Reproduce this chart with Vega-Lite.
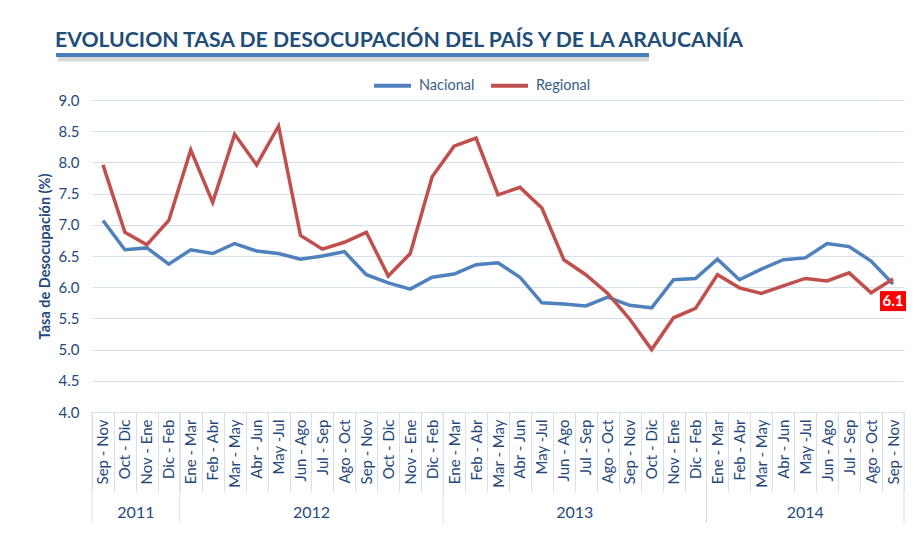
{
  "$schema": "https://vega.github.io/schema/vega-lite/v6.json",
  "width": 812,
  "height": 312,
  "autosize": {"type": "none"},
  "padding": {"left": 92, "top": 100, "right": 11, "bottom": 128},
  "background": "white",
  "config": {"font": "Lato", "view": {"stroke": null}},
  "title": {
    "text": "EVOLUCION TASA DE DESOCUPACIÓN DEL PAÍS Y DE LA ARAUCANÍA",
    "anchor": "start",
    "frame": "group",
    "dx": -37,
    "fontSize": 21.2,
    "fontWeight": "bold",
    "color": "#1F4E79",
    "offset": 2
  },
  "data": {
    "values": [
      {"k": "2011|Sep - Nov", "anio": "2011", "Nacional": 7.07, "Regional": 7.96},
      {"k": "2011|Oct - Dic", "anio": "2011", "Nacional": 6.60, "Regional": 6.88},
      {"k": "2011|Nov - Ene", "anio": "2011", "Nacional": 6.63, "Regional": 6.68},
      {"k": "2011|Dic - Feb", "anio": "2011", "Nacional": 6.37, "Regional": 7.07},
      {"k": "2012|Ene - Mar", "anio": "2012", "Nacional": 6.60, "Regional": 8.20},
      {"k": "2012|Feb - Abr", "anio": "2012", "Nacional": 6.54, "Regional": 7.36},
      {"k": "2012|Mar - May", "anio": "2012", "Nacional": 6.70, "Regional": 8.45},
      {"k": "2012|Abr - Jun", "anio": "2012", "Nacional": 6.58, "Regional": 7.96},
      {"k": "2012|May -Jul", "anio": "2012", "Nacional": 6.54, "Regional": 8.58},
      {"k": "2012|Jun - Ago", "anio": "2012", "Nacional": 6.45, "Regional": 6.83},
      {"k": "2012|Jul - Sep", "anio": "2012", "Nacional": 6.50, "Regional": 6.61},
      {"k": "2012|Ago - Oct", "anio": "2012", "Nacional": 6.57, "Regional": 6.72},
      {"k": "2012|Sep - Nov", "anio": "2012", "Nacional": 6.20, "Regional": 6.88},
      {"k": "2012|Oct - Dic", "anio": "2012", "Nacional": 6.07, "Regional": 6.18},
      {"k": "2012|Nov - Ene", "anio": "2012", "Nacional": 5.97, "Regional": 6.54},
      {"k": "2012|Dic - Feb", "anio": "2012", "Nacional": 6.16, "Regional": 7.77},
      {"k": "2013|Ene - Mar", "anio": "2013", "Nacional": 6.21, "Regional": 8.26},
      {"k": "2013|Feb - Abr", "anio": "2013", "Nacional": 6.36, "Regional": 8.39},
      {"k": "2013|Mar - May", "anio": "2013", "Nacional": 6.39, "Regional": 7.48},
      {"k": "2013|Abr - Jun", "anio": "2013", "Nacional": 6.16, "Regional": 7.60},
      {"k": "2013|May -Jul", "anio": "2013", "Nacional": 5.75, "Regional": 7.27},
      {"k": "2013|Jun - Ago", "anio": "2013", "Nacional": 5.73, "Regional": 6.44},
      {"k": "2013|Jul - Sep", "anio": "2013", "Nacional": 5.70, "Regional": 6.20},
      {"k": "2013|Ago - Oct", "anio": "2013", "Nacional": 5.84, "Regional": 5.90},
      {"k": "2013|Sep - Nov", "anio": "2013", "Nacional": 5.71, "Regional": 5.49},
      {"k": "2013|Oct - Dic", "anio": "2013", "Nacional": 5.67, "Regional": 5.00},
      {"k": "2013|Nov - Ene", "anio": "2013", "Nacional": 6.12, "Regional": 5.51},
      {"k": "2013|Dic - Feb", "anio": "2013", "Nacional": 6.14, "Regional": 5.66},
      {"k": "2014|Ene - Mar", "anio": "2014", "Nacional": 6.45, "Regional": 6.20},
      {"k": "2014|Feb - Abr", "anio": "2014", "Nacional": 6.12, "Regional": 5.99},
      {"k": "2014|Mar - May", "anio": "2014", "Nacional": 6.29, "Regional": 5.90},
      {"k": "2014|Abr - Jun", "anio": "2014", "Nacional": 6.44, "Regional": 6.02},
      {"k": "2014|May -Jul", "anio": "2014", "Nacional": 6.47, "Regional": 6.14},
      {"k": "2014|Jun - Ago", "anio": "2014", "Nacional": 6.70, "Regional": 6.10},
      {"k": "2014|Jul - Sep", "anio": "2014", "Nacional": 6.65, "Regional": 6.23},
      {"k": "2014|Ago - Oct", "anio": "2014", "Nacional": 6.42, "Regional": 5.91},
      {"k": "2014|Sep - Nov", "anio": "2014", "Nacional": 6.05, "Regional": 6.13}
    ]
  },
  "transform": [{"fold": ["Nacional", "Regional"], "as": ["serie", "valor"]}],
  "layer": [
    {
      "mark": {"type": "line", "strokeWidth": 3.5},
      "encoding": {
        "x": {
          "field": "k",
          "type": "ordinal",
          "sort": null,
          "bandPosition": 0.5,
          "scale": {
            "type": "band",
            "paddingInner": 0,
            "paddingOuter": 0,
            "domain": [
              "2011|Sep - Nov", "2011|Oct - Dic", "2011|Nov - Ene", "2011|Dic - Feb",
              "2012|Ene - Mar", "2012|Feb - Abr", "2012|Mar - May", "2012|Abr - Jun", "2012|May -Jul", "2012|Jun - Ago",
              "2012|Jul - Sep", "2012|Ago - Oct", "2012|Sep - Nov", "2012|Oct - Dic", "2012|Nov - Ene", "2012|Dic - Feb",
              "2013|Ene - Mar", "2013|Feb - Abr", "2013|Mar - May", "2013|Abr - Jun", "2013|May -Jul", "2013|Jun - Ago",
              "2013|Jul - Sep", "2013|Ago - Oct", "2013|Sep - Nov", "2013|Oct - Dic", "2013|Nov - Ene", "2013|Dic - Feb",
              "2014|Ene - Mar", "2014|Feb - Abr", "2014|Mar - May", "2014|Abr - Jun", "2014|May -Jul", "2014|Jun - Ago",
              "2014|Jul - Sep", "2014|Ago - Oct", "2014|Sep - Nov"
            ]
          },
          "axis": {
            "title": null,
            "labelExpr": "split(datum.value, '|')[1]",
            "labelAngle": -90,
            "labelAlign": "right",
            "labelBaseline": "middle",
            "labelPadding": -72,
            "labelFontSize": 15,
            "labelColor": "#1F497D",
            "labelOverlap": false,
            "tickBand": "extent",
            "tickColor": "#D6E0EE",
            "tickSize": 79,
            "domainColor": "#D6E0EE",
            "grid": false
          }
        },
        "y": {
          "field": "valor",
          "type": "quantitative",
          "scale": {"domain": [4, 9], "nice": false, "zero": false},
          "axis": {
            "title": "Tasa de Desocupación (%)",
            "values": [4, 4.5, 5, 5.5, 6, 6.5, 7, 7.5, 8, 8.5, 9],
            "format": ".1f",
            "domain": false,
            "ticks": false,
            "labelOverlap": false,
            "labelPadding": 13,
            "labelFontSize": 15,
            "labelColor": "#1F497D",
            "gridColor": "#D6E0EE",
            "titleFontSize": 14.5,
            "titleFontWeight": "bold",
            "titleColor": "#1F497D",
            "titlePadding": 6
          }
        },
        "color": {
          "field": "serie",
          "type": "nominal",
          "scale": {"domain": ["Nacional", "Regional"], "range": ["#4F81BD", "#C0504D"]},
          "legend": {
            "title": null,
            "orient": "none",
            "legendX": 280,
            "legendY": -35,
            "direction": "horizontal",
            "symbolType": "stroke",
            "symbolSize": 1369,
            "symbolStrokeWidth": 4,
            "labelFontSize": 14.5,
            "labelColor": "#385D8A",
            "columnPadding": 8,
            "labelOffset": 6
          }
        }
      }
    },
    {
      "transform": [{"filter": "datum.serie == 'Nacional' && datum.k == '2011|Sep - Nov'"}],
      "mark": {"type": "rule", "color": "#7F7F7F", "strokeWidth": 5, "opacity": 0.3, "yOffset": 4, "xOffset": 2},
      "encoding": {
        "x": {"datum": "2011|Sep - Nov", "bandPosition": -1.64},
        "x2": {"datum": "2013|Oct - Dic", "bandPosition": 0.38},
        "y": {"datum": 9.72, "axis": {"values": [4, 4.5, 5, 5.5, 6, 6.5, 7, 7.5, 8, 8.5, 9]}}
      }
    },
    {
      "transform": [{"filter": "datum.serie == 'Nacional' && datum.k == '2011|Sep - Nov'"}],
      "mark": {"type": "rule", "color": "#4A7EBB", "strokeWidth": 4},
      "encoding": {
        "x": {"datum": "2011|Sep - Nov", "bandPosition": -1.64},
        "x2": {"datum": "2013|Oct - Dic", "bandPosition": 0.38},
        "y": {"datum": 9.72, "axis": {"values": [4, 4.5, 5, 5.5, 6, 6.5, 7, 7.5, 8, 8.5, 9]}}
      }
    },
    {
      "transform": [{"filter": "datum.serie == 'Nacional' && indexof(['2011|Sep - Nov','2012|Ene - Mar','2013|Ene - Mar','2014|Ene - Mar'], datum.k) >= 0"}],
      "mark": {"type": "rule", "color": "#D6E0EE", "strokeWidth": 1},
      "encoding": {
        "x": {"field": "k", "type": "ordinal", "bandPosition": 0},
        "y": {"datum": 4, "axis": {"values": [4, 4.5, 5, 5.5, 6, 6.5, 7, 7.5, 8, 8.5, 9]}},
        "y2": {"datum": 2.22}
      }
    },
    {
      "transform": [{"filter": "datum.serie == 'Nacional' && datum.k == '2014|Sep - Nov'"}],
      "mark": {"type": "rule", "color": "#D6E0EE", "strokeWidth": 1},
      "encoding": {
        "x": {"field": "k", "type": "ordinal", "bandPosition": 1},
        "y": {"datum": 4, "axis": {"values": [4, 4.5, 5, 5.5, 6, 6.5, 7, 7.5, 8, 8.5, 9]}},
        "y2": {"datum": 2.22}
      }
    },
    {
      "transform": [{"filter": "datum.serie == 'Regional' && datum.k == '2014|Sep - Nov'"}],
      "mark": {"type": "point", "shape": "M-1.3,-1L1.3,-1L1.3,1L-1.3,1Z", "size": 400, "filled": true, "color": "#FF0000", "opacity": 1, "yOffset": 22},
      "encoding": {
        "x": {"field": "k", "type": "ordinal", "bandPosition": 0.5},
        "y": {"field": "valor", "type": "quantitative", "axis": {"values": [4, 4.5, 5, 5.5, 6, 6.5, 7, 7.5, 8, 8.5, 9]}}
      }
    },
    {
      "transform": [{"filter": "datum.serie == 'Regional' && datum.k == '2014|Sep - Nov'"}],
      "mark": {"type": "text", "color": "white", "fontWeight": "bold", "fontSize": 15, "baseline": "middle", "yOffset": 22},
      "encoding": {
        "x": {"field": "k", "type": "ordinal", "bandPosition": 0.5},
        "y": {"field": "valor", "type": "quantitative", "axis": {"values": [4, 4.5, 5, 5.5, 6, 6.5, 7, 7.5, 8, 8.5, 9]}},
        "text": {"field": "valor", "type": "quantitative", "format": ".1f"}
      }
    },
    {
      "transform": [{"filter": "datum.serie == 'Nacional' && indexof(['2011|Nov - Ene','2012|Jul - Sep','2013|Jul - Sep'], datum.k) >= 0"}],
      "mark": {"type": "text", "color": "#1F497D", "fontSize": 16, "baseline": "middle", "dy": 101},
      "encoding": {
        "x": {"field": "k", "type": "ordinal", "bandPosition": 0},
        "y": {"datum": 4, "axis": {"values": [4, 4.5, 5, 5.5, 6, 6.5, 7, 7.5, 8, 8.5, 9]}},
        "text": {"field": "anio"}
      }
    },
    {
      "transform": [{"filter": "datum.serie == 'Nacional' && datum.k == '2014|May -Jul'"}],
      "mark": {"type": "text", "color": "#1F497D", "fontSize": 16, "baseline": "middle", "dy": 101},
      "encoding": {
        "x": {"field": "k", "type": "ordinal", "bandPosition": 0.5},
        "y": {"datum": 4, "axis": {"values": [4, 4.5, 5, 5.5, 6, 6.5, 7, 7.5, 8, 8.5, 9]}},
        "text": {"field": "anio"}
      }
    }
  ]
}
